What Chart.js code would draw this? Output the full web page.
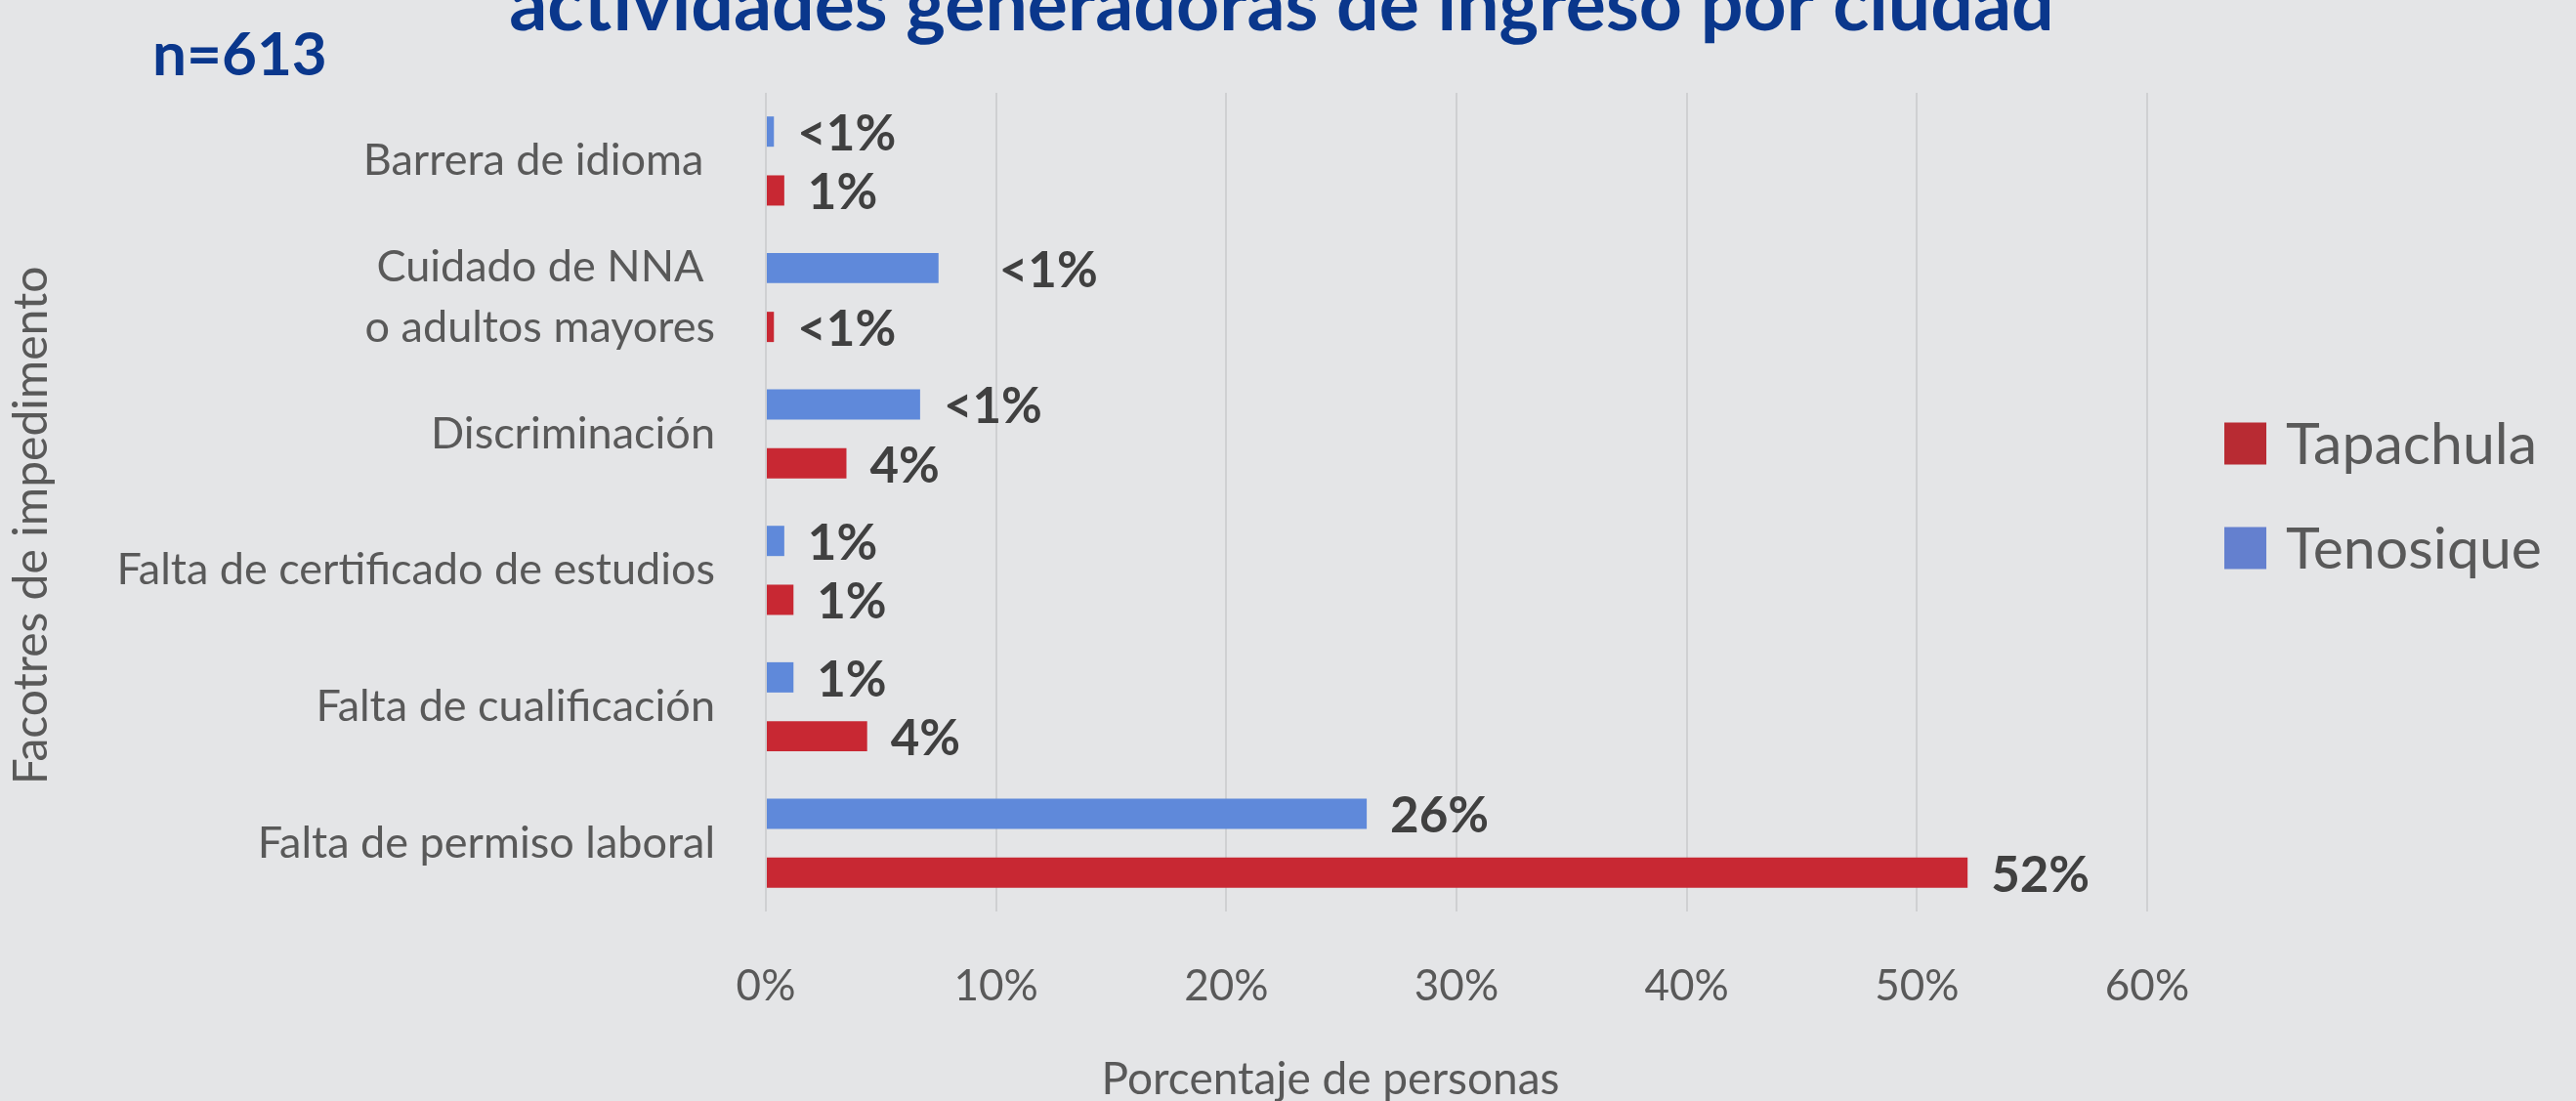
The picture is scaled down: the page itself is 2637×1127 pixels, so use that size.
<!DOCTYPE html>
<html>
<head>
<meta charset="utf-8">
<script src="https://cdn.jsdelivr.net/npm/chart.js@4.4.1/dist/chart.umd.min.js"></script>
<style>
  html, body { margin: 0; padding: 0; background: #E4E5E7; overflow: hidden; }
  #wrap { width: 2637px; height: 1127px; position: relative; }
</style>
</head>
<body>
<div id="wrap"><canvas id="myChart"></canvas></div>
<script>
// data
const categories = [
  'Barrera de idioma ',
  ['Cuidado de NNA ', 'o adultos mayores'],
  'Discriminación',
  'Falta de certificado de estudios',
  'Falta de cualificación',
  'Falta de permiso laboral'
];
const tenosiqueValues = [0.35, 7.5, 6.7, 0.8, 1.2, 26.1];
const tapachulaValues = [0.8, 0.35, 3.5, 1.2, 4.4, 52.2];
const tenosiqueLabels = ['<1%', '<1%', '<1%', '1%', '1%', '26%'];
const tapachulaLabels = ['1%', '<1%', '4%', '1%', '4%', '52%'];
const xTicks = [0, 10, 20, 30, 40, 50, 60];

const BG = '#E4E5E7';
const NAVY = '#0A378C';
const GREY = '#595959';

const decor = {
    id: 'decor',
    beforeDraw(chart) {
        const c = chart.ctx;
        c.save();
        c.fillStyle = BG;
        c.fillRect(0, 0, chart.width, chart.height);
        c.restore();
    },
    afterDatasetsDraw(chart) {
        const c = chart.ctx;
        c.save();

        // value labels next to the bars
        c.font = 'bold 51px Lato';
        c.fillStyle = '#404040';
        c.textBaseline = 'middle';
        c.textAlign = 'left';
        chart.data.datasets.forEach((ds, i) => {
            const meta = chart.getDatasetMeta(i);
            meta.data.forEach((bar, j) => {
                const extra = (i === 0 && j === 1) ? 38 : 0;
                c.fillText(ds.valueLabels[j], bar.x + 24 + extra, bar.y + 3);
            });
        });

        // title (first line is cut off by the frame) and sample size
        c.fillStyle = NAVY;
        c.textBaseline = 'alphabetic';
        c.textAlign = 'center';
        c.font = 'bold 77px Lato';
        c.fillText('actividades generadoras de ingreso por ciudad', 1312, 31);
        c.textAlign = 'left';
        c.font = 'bold 62px Lato';
        c.fillText('n=613', 156, 77);

        // axis titles
        c.fillStyle = GREY;
        c.font = '46px Lato';
        c.textAlign = 'center';
        c.fillText('Porcentaje de personas', 1362, 1120);
        c.save();
        c.translate(33, 538);
        c.rotate(-Math.PI / 2);
        c.textBaseline = 'middle';
        c.font = '48px Lato';
        c.fillText('Facotres de impedimento', 0, 0);
        c.restore();

        // legend, Tapachula first
        c.font = '59px Lato';
        c.textAlign = 'left';
        c.textBaseline = 'middle';
        const items = chart.data.datasets.slice().reverse();
        items.forEach((ds, k) => {
            const y = 454 + k * 107;
            c.fillStyle = ds.legendColor;
            c.fillRect(2277, y - 21.5, 43, 43);
            c.fillStyle = GREY;
            c.fillText(ds.label, 2340, y + 2);
        });

        c.restore();
    }
};

const ctx = document.getElementById('myChart').getContext('2d');

new Chart(ctx, {
    type: 'bar',
    data: {
        labels: categories,
        datasets: [{
            label: 'Tenosique',
            data: tenosiqueValues,
            valueLabels: tenosiqueLabels,
            backgroundColor: '#5F89DA',
            legendColor: '#6480CF',
            categoryPercentage: 0.863,
            barPercentage: 0.514
        }, {
            label: 'Tapachula',
            data: tapachulaValues,
            valueLabels: tapachulaLabels,
            backgroundColor: '#C82833',
            legendColor: '#B82B33',
            categoryPercentage: 0.863,
            barPercentage: 0.514
        }]
    },
    options: {
        indexAxis: 'y',
        responsive: true,
        maintainAspectRatio: false,
        animation: false,
        layout: {
            padding: { left: 0, right: 2637 - 2198, top: 95, bottom: 0 }
        },
        plugins: {
            legend: { display: false },
            tooltip: { enabled: false }
        },
        scales: {
            x: {
                min: xTicks[0],
                max: xTicks[xTicks.length - 1],
                afterFit(scale) { scale.height = 1127 - 933; },
                ticks: {
                    stepSize: xTicks[1] - xTicks[0],
                    callback: v => v + '%',
                    color: GREY,
                    font: { family: 'Lato', size: 44 },
                    padding: 50
                },
                grid: { color: '#CFD0D2', lineWidth: 2, drawTicks: false },
                border: { display: false }
            },
            y: {
                afterFit(scale) { scale.width = 784; },
                ticks: {
                    color: GREY,
                    font: { family: 'Lato', size: 45, lineHeight: 1.38 },
                    padding: 52
                },
                grid: { display: false, drawTicks: false },
                border: { display: false }
            }
        }
    },
    plugins: [decor]
});
</script>
</body>
</html>
